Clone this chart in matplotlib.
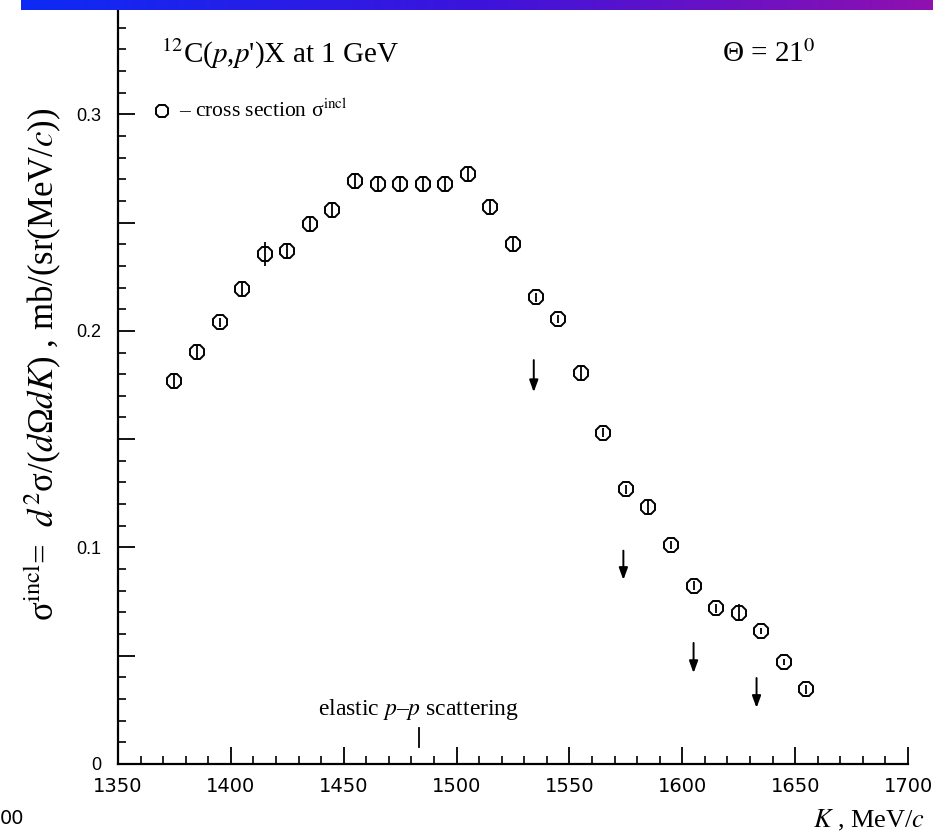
import numpy as np
import matplotlib.pyplot as plt
from matplotlib.ticker import MultipleLocator, FuncFormatter
from matplotlib.colors import LinearSegmentedColormap

plt.rcParams['font.family'] = ['Liberation Serif', 'DejaVu Serif']
plt.rcParams['mathtext.fontset'] = 'stix'

# inclusive cross section, 12C(p,p')X at 1 GeV, theta = 21 deg
K = [1375, 1385, 1395, 1405, 1415, 1425, 1435, 1445, 1455, 1465,
     1475, 1485, 1495, 1505, 1515, 1525, 1535, 1545, 1555, 1565,
     1575, 1585, 1595, 1605, 1615, 1625, 1635, 1645, 1655]
sigma = [0.1770, 0.1904, 0.2039, 0.2193, 0.2355, 0.2369, 0.2493, 0.2558,
         0.2692, 0.2678, 0.2678, 0.2678, 0.2678, 0.2722, 0.2572, 0.2401,
         0.2155, 0.2055, 0.1807, 0.1530, 0.1268, 0.1185, 0.1011, 0.0823,
         0.0719, 0.0699, 0.0614, 0.0470, 0.0345]
sigma_err = [0.0030, 0.0030, 0.0020, 0.0035, 0.0057, 0.0035, 0.0035, 0.0035,
             0.0035, 0.0035, 0.0035, 0.0035, 0.0035, 0.0035, 0.0035, 0.0030,
             0.0020, 0.0020, 0.0035, 0.0020, 0.0020, 0.0035, 0.0020, 0.0020,
             0.0020, 0.0040, 0.0015, 0.0015, 0.0020]

# downward arrows: position, start, tip
arrow_K = [1534.2, 1573.9, 1605.0, 1632.9]
arrow_top = [0.1865, 0.0985, 0.0559, 0.0397]
arrow_tip = [0.1717, 0.0850, 0.0420, 0.0259]

K_elastic = 1483.3
x_ticks = [1350, 1400, 1450, 1500, 1550, 1600, 1650, 1700]

fig = plt.figure(figsize=(9.33, 8.4), dpi=100)

ax = fig.add_axes([118 / 933, 76 / 840, (908 - 118) / 933, (764 - 6) / 840])
ax.patch.set_visible(False)

# slide header strip
bar = fig.add_axes([21 / 933, 1 - 10 / 840, 1 - 21 / 933, 10 / 840], zorder=5)
grad = np.linspace(0, 1, 256)[None, :]
bar_cmap = LinearSegmentedColormap.from_list('hdr', ['#0d2af5', '#3c14dc', '#9010b0'])
bar.imshow(grad, aspect='auto', cmap=bar_cmap)
bar.axis('off')

ax.set_xlim(1350, 1700)
ax.set_ylim(0, 0.35)
for s in ['top', 'right']:
    ax.spines[s].set_visible(False)
for s in ['left', 'bottom']:
    ax.spines[s].set_linewidth(1.6)

ax.xaxis.set_major_locator(MultipleLocator(50))
ax.xaxis.set_minor_locator(MultipleLocator(10))
ax.yaxis.set_major_locator(MultipleLocator(0.05))
ax.yaxis.set_minor_locator(MultipleLocator(0.01))
ax.tick_params(which='major', direction='in', length=12, width=1.3)
ax.tick_params(which='minor', direction='in', length=6, width=1.2)
ax.tick_params(axis='x', pad=9)
ax.tick_params(axis='y', pad=12)


def ylab(v, pos):
    if abs(v) < 1e-9:
        return '0'
    if abs(v * 10 - round(v * 10)) < 1e-6:
        return '%.1f' % v
    return ''


ax.yaxis.set_major_formatter(FuncFormatter(ylab))
ax.set_xticks(x_ticks)
ax.set_xticklabels([str(t) for t in x_ticks], family=['Liberation Sans Narrow', 'DejaVu Sans'], fontsize=14)
for lab in ax.get_yticklabels():
    lab.set_family(['Liberation Sans', 'DejaVu Sans'])
    lab.set_fontsize(13)

ax.errorbar(K, sigma, yerr=sigma_err, fmt='none', ecolor='black', elinewidth=1.3, capsize=0, zorder=4)
ax.plot(K, sigma, linestyle='none', marker='8', markersize=11, mfc='none', mec='black', mew=1.4, zorder=3)

for xk, y0, y1 in zip(arrow_K, arrow_top, arrow_tip):
    ax.annotate('', xy=(xk, y1), xytext=(xk, y0),
                arrowprops=dict(arrowstyle='-|>,head_length=0.6,head_width=0.22',
                                color='black', lw=1.4, mutation_scale=12,
                                shrinkA=0, shrinkB=0))

ax.plot([K_elastic, K_elastic], [0.0080, 0.0166], color='black', lw=1.3)
ax.text(K_elastic, 0.0195, 'elastic $p$\u2013$p$ scattering', ha='center', va='bottom', fontsize=17)

ax.text(0.054, 0.937, '$^{12}$C($p$,$p$\')X at 1 GeV', transform=ax.transAxes, fontsize=21, va='center')
ax.text(0.765, 0.937, '\u0398 = 21$^0$', transform=ax.transAxes, fontsize=21, va='center')

ax.plot([1369.5], [0.3016], linestyle='none', marker='8', markersize=10, mfc='none', mec='black', mew=1.4)
ax.text(1377, 0.3016, '\u2013 cross section \u03c3$^{\\rm incl}$', fontsize=15.5, va='center')

fig.text(42 / 933, 1 - 364 / 840,
         '\u03c3$^{\\rm incl}$=  $d^2$\u03c3/($d$\u03a9$dK$) , mb/(sr(MeV/$c$))',
         rotation=90, ha='center', va='center', fontsize=25)
fig.text(925 / 933, 1 - 820 / 840, '$K$ , MeV/$c$', ha='right', va='center', fontsize=19)
fig.text(0.0, 1 - 818 / 840, '00', ha='left', va='center', fontsize=14,
         family=['Liberation Sans Narrow', 'DejaVu Sans'])

fig.savefig('out.png', dpi=100)
